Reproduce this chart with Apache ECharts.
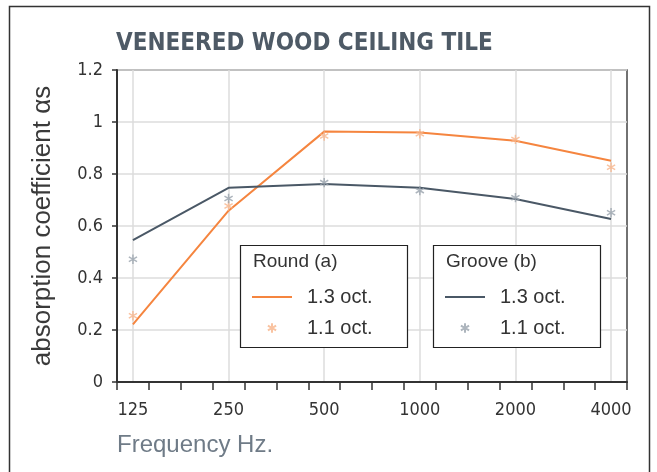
<!DOCTYPE html>
<html><head><meta charset="utf-8">
<script src="https://cdn.jsdelivr.net/npm/echarts@6/dist/echarts.min.js"></script>
<style>html,body{margin:0;padding:0;background:#fff}#c{width:657px;height:472px}</style>
</head><body><div id="c"></div>
<script>
const categories = ['125', '250', '500', '1000', '2000', '4000'];
const round13 = [0.222, 0.659, 0.963, 0.960, 0.928, 0.851];
const round11 = [0.255, 0.677, 0.946, 0.955, 0.933, 0.826];
const groove13 = [0.546, 0.747, 0.762, 0.747, 0.704, 0.627];
const groove11 = [0.472, 0.706, 0.767, 0.736, 0.709, 0.651];

const SLOT = 3, OFFSET = 0.5, XMAX = 16;
const xPos = i => OFFSET + SLOT * i;
const toData = arr => arr.map((v, i) => [xPos(i), v]);
const catPositions = categories.map((c, i) => xPos(i));
const minorTicks = Array.from({length: XMAX + 1}, (_, i) => i);

const star = 'path://M0 0M20 20M10 5.3L10 14.7M5.9 7.65L14.1 12.35M5.9 12.35L14.1 7.65';
const ORANGE = '#f5853f', ORANGE_L = '#f8b48a', SLATE = '#4a5866', SLATE_L = '#98a2ad';
const narrow = "'Liberation Sans Narrow', 'DejaVu Sans Condensed', sans-serif";
const sans = "'Liberation Sans', Arial, sans-serif";

function makeLegend(leftPx, lineName, starName) {
  return {
    show: true, orient: 'vertical', left: leftPx, top: 287, padding: 0,
    itemWidth: 40, itemHeight: 20, itemGap: 10, z: 20, selectedMode: false,
    data: [{name: lineName, itemStyle: {opacity: 0}}, {name: starName, icon: star}],
    formatter: n => n.replace(/^\S+\s/, ''),
    textStyle: {fontFamily: sans, fontSize: 20, color: '#333', padding: [0, 0, 0, 10]}
  };
}

const chart = echarts.init(document.getElementById('c'), null, {renderer: 'canvas'});
chart.setOption({
  animation: false,
  title: {
    text: 'VENEERED WOOD CEILING TILE', left: 116, top: 32, padding: 0,
    textStyle: {fontFamily: narrow, fontWeight: 'bold', fontSize: 24, color: '#4e5a66'}
  },
  grid: {left: 117, right: 30, top: 70, bottom: 90, show: true, borderColor: '#444', borderWidth: 1.5, containLabel: false},
  xAxis: [{
    type: 'value', min: 0, max: XMAX, position: 'bottom',
    axisLine: {show: true, lineStyle: {color: '#333', width: 2}},
    axisTick: {show: true, customValues: minorTicks, length: 8, inside: false, lineStyle: {color: '#333', width: 1.5}},
    axisLabel: {show: true, customValues: catPositions, margin: 19, fontFamily: narrow, fontSize: 18, color: '#333',
      formatter: v => categories[Math.round((v - OFFSET) / SLOT)]},
    splitLine: {show: false}
  }, {
    type: 'value', min: 0, max: XMAX, position: 'top',
    axisLine: {show: false}, axisLabel: {show: false},
    axisTick: {show: false, customValues: catPositions},
    splitLine: {show: true, lineStyle: {color: '#dddddd', width: 1.5}}
  }],
  yAxis: {
    type: 'value', min: 0, max: 1.2, interval: 0.2,
    name: 'absorption coefficient αs', nameLocation: 'middle', nameGap: 61, nameRotate: 90,
    nameTextStyle: {fontFamily: sans, fontSize: 26, color: '#3a3a3a'},
    axisLine: {show: true, lineStyle: {color: '#333', width: 2}},
    axisTick: {show: true, length: 5, lineStyle: {color: '#333', width: 1.5}},
    axisLabel: {margin: 14, fontFamily: narrow, fontSize: 18, color: '#333'},
    splitLine: {show: true, lineStyle: {color: '#dddddd', width: 1.5}}
  },
  legend: [
    makeLegend(251, 'Round 1.3 oct.', 'Round 1.1 oct.'),
    makeLegend(444, 'Groove 1.3 oct.', 'Groove 1.1 oct.')
  ],
  graphic: [
    {type: 'rect', z: 0, silent: true, shape: {x: 9.5, y: 6.5, width: 640, height: 490}, style: {fill: 'none', stroke: '#333', lineWidth: 1.5}},
    {type: 'rect', z: 10, silent: true, shape: {x: 240.5, y: 245.5, width: 167, height: 102}, style: {fill: '#fff', stroke: '#222', lineWidth: 1.2}},
    {type: 'rect', z: 10, silent: true, shape: {x: 433.5, y: 245.5, width: 167, height: 102}, style: {fill: '#fff', stroke: '#222', lineWidth: 1.2}},
    {type: 'text', z: 11, silent: true, x: 253, y: 252, style: {text: 'Round (a)', font: '19px ' + sans, fill: '#333'}},
    {type: 'text', z: 11, silent: true, x: 446, y: 252, style: {text: 'Groove (b)', font: '19px ' + sans, fill: '#333'}},
    {type: 'text', z: 11, silent: true, x: 117, y: 433, style: {text: 'Frequency Hz.', font: '24px ' + sans, fill: '#6f7b87'}}
  ],
  series: [
    {name: 'Round 1.3 oct.', type: 'line', data: toData(round13), symbol: 'none', lineStyle: {color: ORANGE, width: 2}, itemStyle: {color: ORANGE}, z: 3},
    {name: 'Groove 1.3 oct.', type: 'line', data: toData(groove13), symbol: 'none', lineStyle: {color: SLATE, width: 2}, itemStyle: {color: SLATE}, z: 3},
    {name: 'Round 1.1 oct.', type: 'scatter', data: toData(round11), symbol: star, symbolSize: 20,
      itemStyle: {color: 'rgba(0,0,0,0)', borderColor: ORANGE_L, borderWidth: 1.5}, z: 4},
    {name: 'Groove 1.1 oct.', type: 'scatter', data: toData(groove11), symbol: star, symbolSize: 20,
      itemStyle: {color: 'rgba(0,0,0,0)', borderColor: SLATE_L, borderWidth: 1.5}, z: 4}
  ]
});
</script></body></html>
